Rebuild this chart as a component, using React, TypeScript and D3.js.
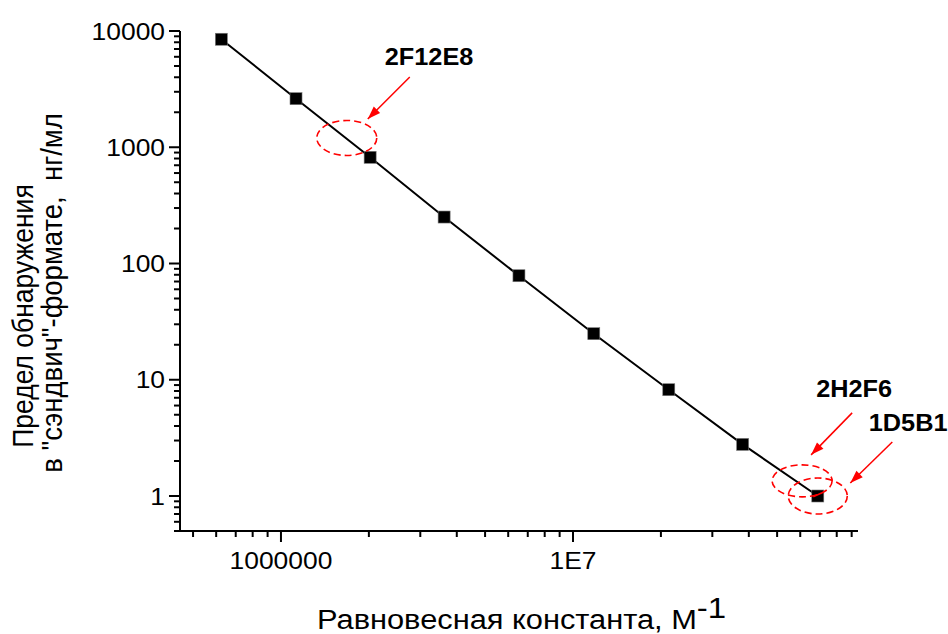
import React from "react";
import * as d3 from "d3";

// ---- data ----
const equilibriumConstants = [6.25e5, 1.126e6, 2.02e6, 3.62e6, 6.53e6, 1.178e7, 2.128e7, 3.81e7, 6.89e7];
const detectionLimits = [8490, 2617, 819, 251, 78.5, 24.9, 8.21, 2.78, 1.0];

const xTickValues = [1e6, 1e7];
const xTickLabels = ["1000000", "1E7"];
const yTickValues = [1, 10, 100, 1000, 10000];
const yTickLabels = ["1", "10", "100", "1000", "10000"];

const annotationLabels = ["2F12E8", "2H2F6", "1D5B1"];
const annotationK = [1.68e6, 6.09e7, 6.89e7];
const annotationLOD = [1202, 1.35, 1.0];

// ---- layout ----
const W = 948;
const H = 634;
const FONT = "'Liberation Sans', Arial, Helvetica, sans-serif";
const SX = 1.1; // horizontal text stretch

// per-annotation layout: ellipse radii, text offset, arrow start/end offsets (relative to ellipse centre)
const annLayout = [
  { rx: 30, ry: 17.5, tx: 38, ty: -73, ax1: 63, ay1: -61, ax2: 21, ay2: -19 },
  { rx: 30, ry: 16, tx: 14, ty: -84, ax1: 50, ay1: -68, ax2: 9, ay2: -26 },
  { rx: 29.5, ry: 18, tx: 51, ty: -65, ax1: 74.5, ay1: -54, ax2: 32.5, ay2: -13 },
];

function arrowHead(x1: number, y1: number, x2: number, y2: number, len = 13, half = 4.5) {
  const a = Math.atan2(y2 - y1, x2 - x1);
  const bx = x2 - len * Math.cos(a);
  const by = y2 - len * Math.sin(a);
  const px = -Math.sin(a) * half;
  const py = Math.cos(a) * half;
  return `M${x2},${y2}L${bx + px},${by + py}L${bx - px},${by - py}Z`;
}

export default function App() {
  const x = d3.scaleLog().domain([4.511e5, 9.461e7]).range([180, 858]);
  const y = d3.scaleLog().domain([0.5, 10000]).range([531, 31]);

  const [x0, x1] = x.range();
  const [yb, yt] = y.range();

  const xMinor: number[] = [];
  for (let d = 5; d <= 7; d++) {
    for (let m = 2; m <= 9; m++) {
      const v = m * Math.pow(10, d);
      if (v >= x.domain()[0] && v <= x.domain()[1]) xMinor.push(v);
    }
  }
  const yMinor: number[] = [];
  for (let d = -1; d <= 3; d++) {
    for (let m = 2; m <= 9; m++) {
      const v = m * Math.pow(10, d);
      if (v >= y.domain()[0] * 0.999 && v <= y.domain()[1]) yMinor.push(v);
    }
  }

  const pts = equilibriumConstants.map((k, i) => [x(k), y(detectionLimits[i])] as [number, number]);
  const linePath = d3.line()(pts) || "";

  const sq = 12;

  return (
    <svg
      width={W}
      height={H}
      style={{ position: "absolute", left: 0, top: 0, background: "#fff" }}
      fontFamily={FONT}
    >
      <rect width={W} height={H} fill="#fff" />

      {/* axes */}
      <line x1={x0} x2={x0} y1={yt} y2={yb} stroke="#000" strokeWidth={2} />
      <line x1={x0 - 1} x2={x1} y1={yb} y2={yb} stroke="#000" strokeWidth={2} />

      {/* x ticks */}
      {xTickValues.map((v) => (
        <line key={"xM" + v} x1={x(v)} x2={x(v)} y1={yb} y2={yb + 11} stroke="#000" strokeWidth={2} />
      ))}
      {xMinor.map((v) => (
        <line key={"xm" + v} x1={x(v)} x2={x(v)} y1={yb} y2={yb + 6} stroke="#000" strokeWidth={2} />
      ))}
      {xTickValues.map((v, i) => (
        <text
          key={"xl" + v}
          transform={`translate(${x(v)},569) scale(${SX},1)`}
          textAnchor="middle"
          fontSize={24}
          fill="#000"
        >
          {xTickLabels[i]}
        </text>
      ))}

      {/* y ticks */}
      {yTickValues.map((v) => (
        <line key={"yM" + v} x1={x0 - 11} x2={x0} y1={y(v)} y2={y(v)} stroke="#000" strokeWidth={2} />
      ))}
      {yMinor.map((v) => (
        <line key={"ym" + v} x1={x0 - 6} x2={x0} y1={y(v)} y2={y(v)} stroke="#000" strokeWidth={2} />
      ))}
      {yTickValues.map((v, i) => (
        <text
          key={"yl" + v}
          transform={`translate(165,${y(v) + 8.5}) scale(${SX},1)`}
          textAnchor="end"
          fontSize={24}
          fill="#000"
        >
          {yTickLabels[i]}
        </text>
      ))}

      {/* axis titles */}
      <text transform={`translate(317,629) scale(${SX},1)`} fontSize={28} fill="#000">
        Равновесная константа, M
        <tspan dy={-11} fontSize={30}>-1</tspan>
      </text>
      <text
        transform={`translate(33,316) scale(${SX},1) rotate(-90)`}
        textAnchor="middle"
        fontSize={26.5}
        fill="#000"
      >
        Предел обнаружения
      </text>
      <text
        transform={`translate(62,293) scale(${SX},1) rotate(-90)`}
        textAnchor="middle"
        fontSize={27.5}
        fill="#000"
        style={{ whiteSpace: "pre" }}
      >
        {"в \"сэндвич\"-формате,  нг/мл"}
      </text>

      {/* data line */}
      <path d={linePath} fill="none" stroke="#000" strokeWidth={2} />
      {pts.map(([px, py], i) => (
        <rect
          key={"p" + i}
          x={px - sq / 2}
          y={py - sq / 2}
          width={sq}
          height={sq}
          fill="#000"
          stroke="#777"
          strokeWidth={0.6}
        />
      ))}

      {/* annotations */}
      {annotationLabels.map((lab, i) => {
        const cx = x(annotationK[i]);
        const cy = y(annotationLOD[i]);
        const L = annLayout[i];
        const ax1 = cx + L.ax1;
        const ay1 = cy + L.ay1;
        const ax2 = cx + L.ax2;
        const ay2 = cy + L.ay2;
        return (
          <g key={"a" + lab}>
            <ellipse
              cx={cx}
              cy={cy}
              rx={L.rx}
              ry={L.ry}
              fill="none"
              stroke="#ff0000"
              strokeWidth={1.6}
              strokeDasharray="7,4"
            />
            <line x1={ax1} y1={ay1} x2={ax2} y2={ay2} stroke="#ff0000" strokeWidth={1.5} />
            <path d={arrowHead(ax1, ay1, ax2, ay2)} fill="#ff0000" />
            <text
              transform={`translate(${cx + L.tx},${cy + L.ty}) scale(${SX},1)`}
              fontSize={23}
              fontWeight="bold"
              fill="#000"
            >
              {lab}
            </text>
          </g>
        );
      })}
      {/* small red mark inside the last marker */}
      <line
        x1={x(annotationK[2]) - 4.5}
        y1={y(annotationLOD[2]) + 0.8}
        x2={x(annotationK[2]) + 3.2}
        y2={y(annotationLOD[2]) - 2.7}
        stroke="#ff0000"
        strokeWidth={1.5}
      />
    </svg>
  );
}
